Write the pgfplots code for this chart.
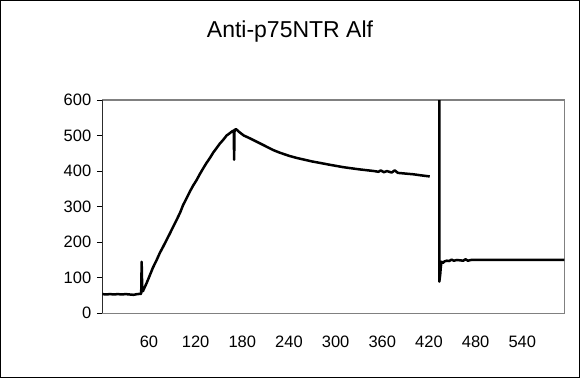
\documentclass[border=0pt]{standalone}
\usepackage{pgfplots}
\pgfplotsset{compat=1.18}
\usepackage{fontspec}
\setmainfont{Liberation Sans}
\definecolor{framegray}{RGB}{128,128,128}
\begin{document}
\begin{tikzpicture}[x=1pt,y=1pt]
\path (0,0) rectangle (585,378);
\draw[black, line width=1pt] (0.5,0.5) rectangle (579.5,377.5);
\node[font=\fontsize{23}{27}\selectfont, anchor=base] at (290,340.5) {Anti-p75NTR Alf};
\begin{axis}[
  at={(102.3pt,64.7pt)}, anchor=south west,
  scale only axis, width=462pt, height=213.3pt,
  xmin=0, xmax=594, ymin=0, ymax=600,
  ytick={0,100,...,600},
  xtick={60,120,...,540},
  xtick style={draw=none},
  ytick pos=left,
  tick align=outside,
  major tick length=5.5pt,
  ytick style={black, line width=1pt},
  axis line style={framegray, line width=1.4pt},
  ticklabel style={font=\fontsize{16.5}{19}\selectfont},
  /pgf/number format/assume math mode=true,
  yticklabel style={xshift=-2pt},
  xticklabel style={yshift=-14pt},
  clip=true,
  unbounded coords=jump,
]
\addplot[black, line width=2.5pt, line join=round] coordinates {
(0,54) (5,53) (10,54) (15,53) (20,54) (25,53) (30,54) (35,53) (40,52) (45,54) (50,55)
(50.6,145) (51.3,70) (52.2,62) (53,66)
(57,85) (61.3,108) (65,128) (69.9,150) (74,170) (78.4,188) (83,208) (87,225) (91,243) (95.6,263)
(100,283) (104,305) (108,322) (112.7,343) (117,360) (121.3,375) (125.5,392) (129.8,408)
(134,423) (138.4,437) (142.6,452) (147,465) (151,477) (155.5,488) (159.8,500) (164.1,507)
(167,512) (169,514) (169.5,432) (170,516) (172,518) (176,510) (182,500) (190,492)
(200,481) (210,470) (220,459) (228,452) (240,443) (250,437) (260,432) (270,427) (280,423)
(292,418) (310,411) (330,405) (350,400) (355,398) (358,402) (362,397) (366,400)
(372,396) (376,402) (380,395) (390,393) (400,391) (410,388) (421,385)
(427,nan)
(433.6,900) (433.3,89) (434.5,110) (435,125) (436,145) (438,142) (440,146) (443,148)
(446,147) (449,151) (452,148) (456,150) (460,149) (464,148) (467,152) (470,148)
(474,150) (480,150) (594,150)
};
\draw[black, line width=1.4pt] (rel axis cs:0,0) -- (rel axis cs:0,1);
\end{axis}
\end{tikzpicture}
\end{document}
